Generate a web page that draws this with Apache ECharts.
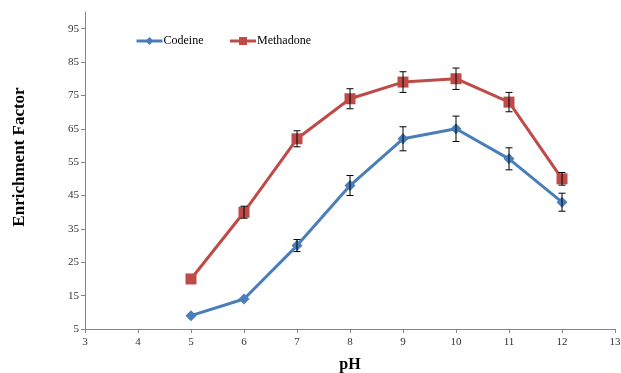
<!DOCTYPE html>
<html><head><meta charset="utf-8">
<script src="https://cdn.jsdelivr.net/npm/echarts@6/dist/echarts.min.js"></script>
<style>html,body{margin:0;padding:0;background:#fff}#c{width:621px;height:373px}</style>
</head><body><div id="c"></div>
<script>
const pH = [5, 6, 7, 8, 9, 10, 11, 12];
const codeine = [9, 14, 30, 48, 62, 65, 56, 43];
const codeineErr = [0, 0, 1.8, 3, 3.6, 3.8, 3.3, 2.7];
const methadone = [20, 40, 62, 74, 79, 80, 73, 50];
const methadoneErr = [0, 1.8, 2.4, 3, 3.1, 3.2, 2.9, 1.9];
const yTicks = [5, 15, 25, 35, 45, 55, 65, 75, 85, 95];
const xTicks = [3, 4, 5, 6, 7, 8, 9, 10, 11, 12, 13];

const FONT = '"Liberation Serif", "Times New Roman", serif';
const BLUE = '#4a7ebb', RED = '#be4b48';

function errData(vals, errs) {
  return pH.map((x, i) => [x, vals[i] - errs[i], vals[i] + errs[i]]);
}
function errRender(params, api) {
  const x = api.value(0), lo = api.value(1), hi = api.value(2);
  if (hi - lo <= 0) return null;
  const p1 = api.coord([x, hi]), p2 = api.coord([x, lo]);
  const w = 3.5;
  const st = { stroke: '#000', lineWidth: 1 };
  return { type: 'group', children: [
    { type: 'line', shape: { x1: p1[0], y1: p1[1], x2: p2[0], y2: p2[1] }, style: st },
    { type: 'line', shape: { x1: p1[0]-w, y1: p1[1], x2: p1[0]+w, y2: p1[1] }, style: st },
    { type: 'line', shape: { x1: p2[0]-w, y1: p2[1], x2: p2[0]+w, y2: p2[1] }, style: st }
  ]};
}

const chart = echarts.init(document.getElementById('c'), null, { renderer: 'canvas' });
chart.setOption({
  animation: false,
  textStyle: { fontFamily: FONT },
  grid: { left: 85, right: 6, top: 12, bottom: 44, containLabel: false, outerBoundsMode: 'none' },
  legend: {
    left: 130, top: 30, itemGap: 25, itemWidth: 26, itemHeight: 10,
    lineStyle: { width: 3 },
    textStyle: { fontFamily: FONT, fontSize: 12, color: '#000', padding: [0, 0, 0, -4] },
    data: ['Codeine', 'Methadone']
  },
  graphic: [{
    type: 'text', x: 20, y: 157, rotation: Math.PI / 2,
    style: { text: 'Enrichment Factor', font: 'bold 17px ' + FONT, fill: '#000',
      align: 'center', verticalAlign: 'middle' }
  }],
  xAxis: {
    type: 'value', min: 3, max: 13, interval: 1,
    name: 'pH', nameLocation: 'middle', nameGap: 28,
    nameTextStyle: { fontFamily: FONT, fontSize: 16, fontWeight: 'bold', color: '#000' },
    axisLine: { lineStyle: { color: '#868686', width: 1 } },
    axisTick: { inside: false, length: 4, lineStyle: { color: '#868686' } },
    axisLabel: { fontFamily: FONT, fontSize: 11, color: '#333', margin: 8 },
    splitLine: { show: false }
  },
  yAxis: {
    type: 'value', min: 5, max: 100,
    axisLine: { lineStyle: { color: '#868686', width: 1 } },
    axisTick: { inside: false, length: 4, lineStyle: { color: '#868686' }, customValues: yTicks },
    axisLabel: { fontFamily: FONT, fontSize: 11, color: '#333', margin: 6, customValues: yTicks },
    splitLine: { show: false }
  },
  series: [
    { name: 'Codeine', type: 'line', data: pH.map((x, i) => [x, codeine[i]]),
      symbol: 'diamond', symbolSize: 11, z: 3,
      lineStyle: { color: BLUE, width: 3 }, itemStyle: { color: BLUE } },
    { name: 'Methadone', type: 'line', data: pH.map((x, i) => [x, methadone[i]]),
      symbol: 'rect', symbolSize: 11, z: 3,
      lineStyle: { color: RED, width: 3 }, itemStyle: { color: RED } },
    { type: 'custom', renderItem: errRender, data: errData(codeine, codeineErr), z: 4,
      encode: { x: 0, y: [1, 2] }, silent: true },
    { type: 'custom', renderItem: errRender, data: errData(methadone, methadoneErr), z: 4,
      encode: { x: 0, y: [1, 2] }, silent: true }
  ]
});
</script></body></html>
